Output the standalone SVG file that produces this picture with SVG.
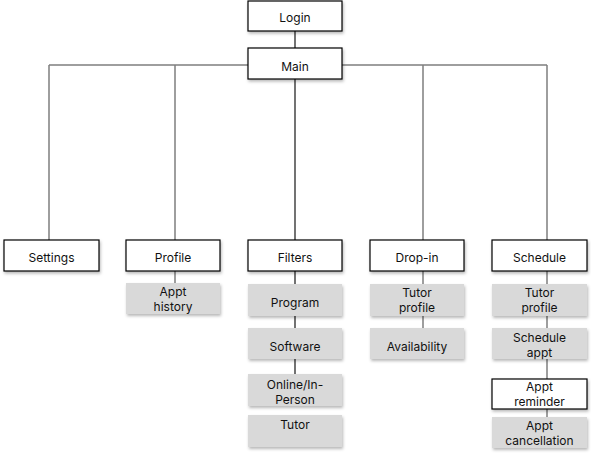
<svg xmlns="http://www.w3.org/2000/svg" width="591" height="457" viewBox="0 0 591 457">
<defs>
<filter id="sh" x="-10%" y="-20%" width="130%" height="160%">
<feDropShadow dx="1" dy="2" stdDeviation="1.6" flood-color="#000" flood-opacity="0.28"/>
</filter>
</defs>
<style>
.w{fill:#fff;stroke:#000;stroke-width:1.2;filter:url(#sh)}
.g{fill:#d9d9d9;stroke:none;filter:url(#sh)}
text{font-family:Inter,"Liberation Sans",sans-serif;font-size:12px;fill:#111;text-anchor:middle}
.cg{stroke:#7f7f7f;stroke-width:1.5;fill:none}
.cb{stroke:#000;stroke-width:1.1;fill:none}
</style>
<rect width="591" height="457" fill="#fff"/>
<g id="connectors">
<path class="cg" d="M49,65H547M49,65V240M175,65V240M423,65V240M547,65V240"/>
<path class="cg" d="M175,271V283M423,271V284M423,316V328M547,271V284M547,316V328M547,359V379M547,409V417"/>
<path class="cb" d="M295,31V48M295,79V240M295,271V284M295,316V328M295,359V374"/>
</g>
<g id="login"><rect class="w" x="248" y="1" width="94" height="30"/><text x="295" y="22">Login</text></g>
<g id="main"><rect class="w" x="248" y="48" width="94" height="31"/><text x="295" y="70.5">Main</text></g>
<g id="settings"><rect class="w" x="4" y="240" width="95" height="31"/><text x="51.5" y="262">Settings</text></g>
<g id="profile"><rect class="w" x="126" y="240" width="94" height="31"/><text x="173" y="262">Profile</text></g>
<g id="filters"><rect class="w" x="248" y="240" width="94" height="31"/><text x="295" y="262">Filters</text></g>
<g id="dropin"><rect class="w" x="370" y="240" width="94" height="31"/><text x="417" y="262">Drop-in</text></g>
<g id="schedule"><rect class="w" x="492" y="240" width="95" height="31"/><text x="539.5" y="262">Schedule</text></g>
<g id="appt-history"><rect class="g" x="126" y="283" width="94" height="31"/><text x="173" y="296">Appt</text><text x="173" y="310.5">history</text></g>
<g id="program"><rect class="g" x="248" y="284" width="94" height="32"/><text x="295" y="306.5">Program</text></g>
<g id="software"><rect class="g" x="248" y="328" width="94" height="31"/><text x="295" y="351">Software</text></g>
<g id="online"><rect class="g" x="248" y="374" width="94" height="32"/><text x="295" y="389">Online/In-</text><text x="295" y="403.5">Person</text></g>
<g id="tutor"><rect class="g" x="248" y="415" width="94" height="32"/><text x="295" y="429">Tutor</text></g>
<g id="dropin-tutor-profile"><rect class="g" x="370" y="284" width="94" height="32"/><text x="417" y="297">Tutor</text><text x="417" y="311.5">profile</text></g>
<g id="availability"><rect class="g" x="370" y="328" width="94" height="31"/><text x="417" y="351">Availability</text></g>
<g id="sched-tutor-profile"><rect class="g" x="492" y="284" width="95" height="32"/><text x="539.5" y="297">Tutor</text><text x="539.5" y="311.5">profile</text></g>
<g id="schedule-appt"><rect class="g" x="492" y="328" width="95" height="31"/><text x="539.5" y="342">Schedule</text><text x="539.5" y="356.5">appt</text></g>
<g id="appt-reminder"><rect class="w" x="492" y="379" width="95" height="30"/><text x="539.5" y="391">Appt</text><text x="539.5" y="405.5">reminder</text></g>
<g id="appt-cancellation"><rect class="g" x="492" y="417" width="95" height="31"/><text x="539.5" y="430">Appt</text><text x="539.5" y="444.5">cancellation</text></g>
</svg>
